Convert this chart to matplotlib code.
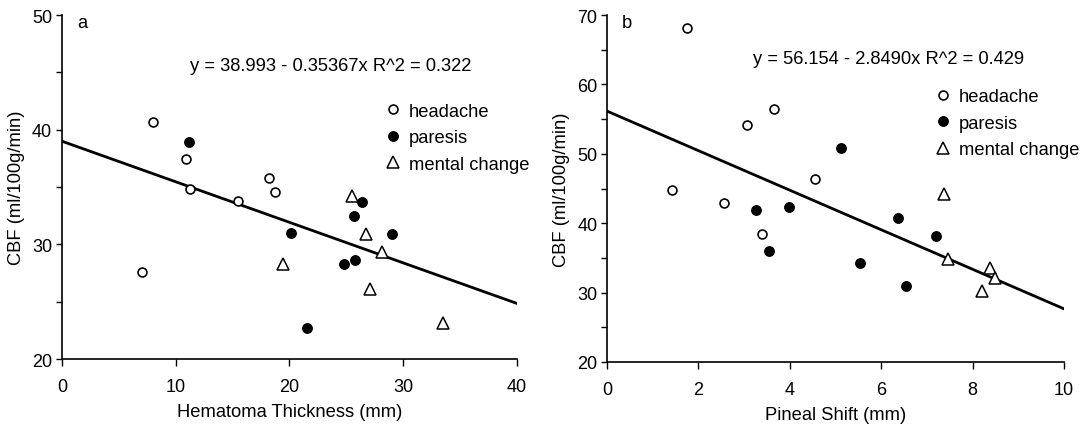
import matplotlib
matplotlib.use("Agg")
import matplotlib.pyplot as plt
from matplotlib.ticker import MultipleLocator

plt.rcParams['font.family'] = ['Liberation Sans', 'DejaVu Sans']

# Panel a: hematoma thickness (mm) vs CBF (ml/100g/min)
a_headache_x = [8.0, 10.9, 11.3, 15.5, 18.2, 18.75, 7.0]
a_headache_y = [40.7, 37.4, 34.8, 33.8, 35.8, 34.6, 27.6]
a_paresis_x = [11.2, 26.4, 25.7, 20.1, 29.0, 24.8, 25.8, 21.5]
a_paresis_y = [38.9, 33.7, 32.5, 31.0, 30.9, 28.3, 28.65, 22.7]
a_mental_x = [25.5, 26.7, 28.1, 19.45, 27.1, 33.5]
a_mental_y = [34.2, 30.9, 29.3, 28.3, 26.1, 23.1]
a_fit = (38.993, -0.35367)
a_r2 = 0.322

# Panel b: pineal shift (mm) vs CBF (ml/100g/min)
b_headache_x = [1.75, 3.07, 3.65, 1.42, 2.55, 4.55, 3.40]
b_headache_y = [68.1, 54.2, 56.5, 44.8, 42.9, 46.4, 38.4]
b_paresis_x = [3.25, 3.98, 3.55, 5.11, 6.37, 7.2, 5.54, 6.54]
b_paresis_y = [41.9, 42.3, 36.0, 50.8, 40.7, 38.1, 34.2, 30.9]
b_mental_x = [7.37, 7.47, 8.38, 8.5, 8.21]
b_mental_y = [44.2, 34.8, 33.5, 32.1, 30.2]
b_fit = (56.154, -2.8490)
b_r2 = 0.429

group_labels = ["headache", "paresis", "mental change"]

fig = plt.figure(figsize=(10.89, 4.27), dpi=100)
ax_a = fig.add_axes([0.0569, 0.1569, 0.4178, 0.8056])
ax_b = fig.add_axes([0.5574, 0.1499, 0.4196, 0.8126])

FS = 13.2
TICK_FS = 13


def draw_panel(ax, hx, hy, px, py, mx, my, fit, r2, xlim, ylim,
               xmajor, ymajor, yminor, xlabel, letter,
               eq_pos, leg_anchor):
    ax.plot(hx, hy, linestyle='none', marker='o', ms=6.4, mfc='white',
            mec='black', mew=1.2, label=group_labels[0], zorder=3)
    ax.plot(px, py, linestyle='none', marker='o', ms=6.8, mfc='black',
            mec='black', mew=1.0, label=group_labels[1], zorder=3)
    ax.plot(mx, my, linestyle='none', marker='^', ms=8.5, mfc='white',
            mec='black', mew=1.1, label=group_labels[2], zorder=3)

    x0, x1 = xlim
    ax.plot([x0, x1], [fit[0] + fit[1] * x0, fit[0] + fit[1] * x1],
            color='black', lw=2.0, zorder=2)

    ax.set_xlim(xlim)
    ax.set_ylim(ylim)
    ax.xaxis.set_major_locator(MultipleLocator(xmajor))
    ax.yaxis.set_major_locator(MultipleLocator(ymajor))
    ax.yaxis.set_minor_locator(MultipleLocator(yminor))
    for s in ('top', 'right'):
        ax.spines[s].set_visible(False)
    for s in ('left', 'bottom'):
        ax.spines[s].set_linewidth(1.2)
    ax.tick_params(axis='both', which='major', direction='out', length=4,
                   width=1.0, labelsize=TICK_FS, pad=3)
    ax.tick_params(axis='y', which='minor', direction='out', length=4,
                   width=1.0)
    ax.tick_params(axis='x', which='major', length=5, pad=9)

    ax.set_xlabel(xlabel, fontsize=FS, labelpad=5.5)
    ax.set_ylabel("CBF (ml/100g/min)", fontsize=FS, labelpad=5)

    ax.text(0.033, 0.978, letter, transform=ax.transAxes, fontsize=FS,
            ha='left', va='center')
    ax.text(eq_pos[0], eq_pos[1],
            f"y = {fit[0]:.3f} - {abs(fit[1]):.{5 if abs(fit[1]) < 1 else 4}f}x R^2 = {r2:.3f}",
            transform=ax.transAxes, fontsize=FS, ha='left', va='center')

    ax.legend(loc='center left', bbox_to_anchor=leg_anchor, frameon=False,
              fontsize=FS, numpoints=1, handlelength=0.6,
              handletextpad=0.55, labelspacing=0.52, borderpad=0,
              borderaxespad=0)


draw_panel(ax_a, a_headache_x, a_headache_y, a_paresis_x, a_paresis_y,
           a_mental_x, a_mental_y, a_fit, a_r2, (0, 40), (20, 50),
           10, 10, 5, "Hematoma Thickness (mm)", "a",
           (0.281, 0.853), (0.716, 0.643))

draw_panel(ax_b, b_headache_x, b_headache_y, b_paresis_x, b_paresis_y,
           b_mental_x, b_mental_y, b_fit, b_r2, (0, 10), (20, 70),
           2, 10, 5, "Pineal Shift (mm)", "b",
           (0.32, 0.875), (0.724, 0.688))

fig.savefig("out.png", dpi=100)
